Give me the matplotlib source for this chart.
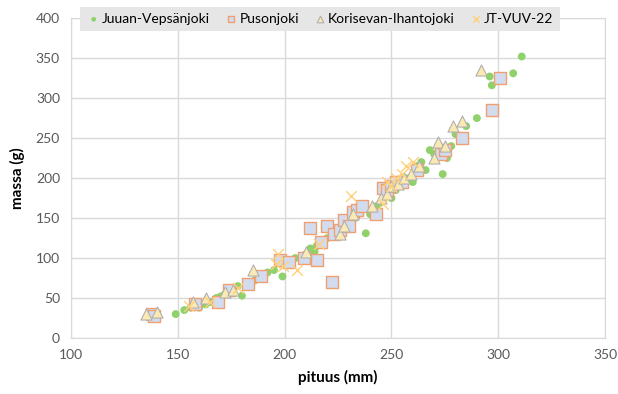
import matplotlib
matplotlib.use('Agg')
import matplotlib.pyplot as plt

plt.rcParams['font.family'] = ['Lato', 'DejaVu Sans']

# Juuan-Vepsänjoki
jv_x = [149, 153, 156, 160, 163, 165, 168, 170, 172, 175, 178, 180, 183, 186, 190, 192, 195, 199, 200,
        205, 210, 212, 214, 215, 218, 220, 222, 225, 228, 230, 233, 238, 240, 243, 245, 248, 250, 252,
        255, 258, 260, 262, 264, 266, 268, 270, 274, 276, 278, 280, 285, 290, 296, 297, 307, 311]
jv_y = [30, 35, 38, 38, 42, 45, 50, 52, 55, 60, 65, 53, 68, 72, 78, 82, 85, 77, 95,
        100, 105, 112, 108, 115, 120, 125, 130, 128, 135, 145, 150, 131, 155, 165, 170, 180, 175, 185,
        190, 200, 195, 215, 220, 210, 235, 230, 205, 225, 240, 255, 265, 275, 327, 316, 331, 352]

# Pusonjoki
pu_x = [138, 139, 158, 169, 174, 183, 189, 198, 202, 209, 212, 215, 217, 220, 222, 223, 226, 228,
        230, 232, 234, 236, 243, 246, 248, 250, 252, 255, 262, 273, 275, 283, 297, 301]
pu_y = [30, 28, 42, 45, 60, 68, 78, 97, 95, 100, 138, 97, 120, 140, 70, 130, 135, 148,
        140, 158, 160, 165, 155, 188, 185, 190, 195, 195, 210, 230, 235, 250, 285, 325]

# Korisevan-Ihantojoki
ko_x = [135, 140, 157, 163, 172, 176, 185, 210, 226, 228, 232, 241, 245, 248, 250, 253, 256, 259,
        263, 270, 272, 275, 279, 283, 292]
ko_y = [30, 32, 45, 50, 58, 60, 85, 108, 130, 140, 155, 165, 175, 180, 190, 192, 200, 205,
        215, 225, 245, 240, 265, 272, 335]

# JT-VUV-22
jt_x = [155, 165, 178, 196, 197, 199, 206, 216, 231, 246, 248, 250, 252, 255, 257, 260]
jt_y = [40, 45, 62, 92, 105, 90, 85, 118, 178, 168, 195, 190, 200, 205, 215, 220]

fig = plt.figure(figsize=(6.18, 3.94), dpi=100)
ax = fig.add_axes([0.115, 0.142, 0.864, 0.812])

ax.scatter(jv_x, jv_y, s=32, color='#8fd16a', edgecolors='none', label='Juuan-Vepsänjoki', zorder=3)
ax.scatter(pu_x, pu_y, s=64, marker='s', facecolor='#d3dcee', edgecolors='#f0a070', linewidths=1,
           label='Pusonjoki', zorder=3)
ax.scatter(ko_x, ko_y, s=64, marker='^', facecolor='#fbe9b4', edgecolors='#b0b0b0', linewidths=0.8,
           label='Korisevan-Ihantojoki', zorder=3)
ax.scatter(jt_x, jt_y, s=60, marker='x', color='#ffd07a', linewidths=1, label='JT-VUV-22', zorder=3)

ax.set_xlim(100, 350)
ax.set_ylim(0, 400)
ax.set_xticks(range(100, 351, 50))
ax.set_yticks(range(0, 401, 50))
ax.grid(True, color='#d9d9d9', linewidth=1)
ax.set_axisbelow(True)
for sp in ax.spines.values():
    sp.set_color('#d9d9d9')
ax.tick_params(length=0, labelsize=10, colors='#595959', pad=8)

ax.set_xlabel('pituus (mm)', fontsize=11, fontweight='bold', labelpad=6)
ax.set_ylabel('massa (g)', fontsize=11, fontweight='bold', labelpad=8)

leg = fig.legend(loc='center', bbox_to_anchor=(0.518, 0.952), ncol=4, fontsize=10, frameon=True,
                 facecolor='#e7e6e6', edgecolor='none', fancybox=False, framealpha=1,
                 handletextpad=0.1, columnspacing=1.0, handlelength=1.0, markerscale=0.6,
                 borderpad=0.45)

plt.savefig('out.png', dpi=100)
